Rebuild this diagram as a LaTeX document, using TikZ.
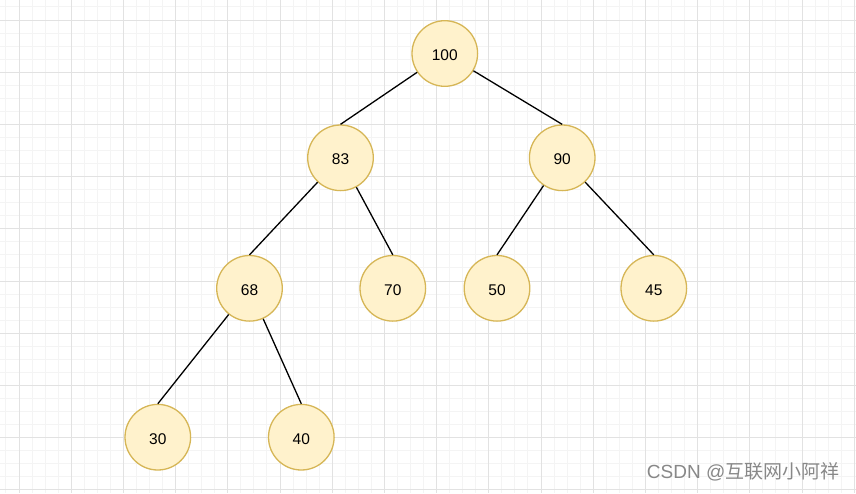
\documentclass[tikz,border=0pt]{standalone}
\usepackage{fontspec}
\setmainfont{Liberation Sans}
\newfontfamily\cjk{Noto Sans CJK SC}
\usetikzlibrary{positioning}
\definecolor{cfill}{HTML}{FFF2CC}
\definecolor{cline}{HTML}{D6B656}
\definecolor{cgridmin}{HTML}{F4F4F4}
\definecolor{cgridmaj}{HTML}{E2E2E2}
\definecolor{cmark}{HTML}{888888}
\tikzset{
  every picture/.style={line width=1.3pt},
  heapnode/.style={circle, draw=cline, fill=cfill, minimum size=65.6pt, inner sep=0pt, text height=14pt, text depth=0pt, font=\fontsize{15.5}{17}\selectfont},
  edge/.style={draw=black, line width=1.3pt},
  gridmin/.style={draw=cgridmin, line width=1pt},
  gridmaj/.style={draw=cgridmaj, line width=1pt},
  wmark/.style={font=\fontsize{19}{21}\selectfont, text=cmark, inner sep=0pt},
}

\begin{document}
\begin{tikzpicture}[x=1pt, y=-1pt]
  \useasboundingbox[fill=white] (0,0) rectangle (856,493);
  % background grid
  \foreach \k in {-1,...,64} \draw[gridmin] ({19+13.05*\k},0) -- ({19+13.05*\k},493);
  \foreach \k in {-1,...,36} \draw[gridmin] (0,{20+13.05*\k}) -- (856,{20+13.05*\k});
  \foreach \k in {0,...,16} \draw[gridmaj] ({19+52.2*\k},0) -- ({19+52.2*\k},493);
  \foreach \k in {0,...,9} \draw[gridmaj] (0,{20+52.2*\k}) -- (856,{20+52.2*\k});
  % heap
  \node[heapnode] (n100) at (444.8,53.5) {100};
  \node[heapnode] (n83) at (340.5,157.8) {83};
  \node[heapnode] (n90) at (562.2,157.8) {90};
  \node[heapnode] (n68) at (249.5,288.3) {68};
  \node[heapnode] (n70) at (392.8,288.3) {70};
  \node[heapnode] (n50) at (497,288.3) {50};
  \node[heapnode] (n45) at (653.8,288.3) {45};
  \node[heapnode] (n30) at (157.8,437.2) {30};
  \node[heapnode] (n40) at (301.3,437.2) {40};
  \draw[edge] (n100) -- (n83.north); \draw[edge] (n100) -- (n90.north);
  \draw[edge] (n83) -- (n68.north); \draw[edge] (n83) -- (n70.north);
  \draw[edge] (n90) -- (n50.north); \draw[edge] (n90) -- (n45.north);
  \draw[edge] (n68) -- (n30.north); \draw[edge] (n68) -- (n40.north);
  \node[wmark, anchor=east] (wm) at (840,472) {CSDN @\cjk 互联网小阿祥};
\end{tikzpicture}
\end{document}
